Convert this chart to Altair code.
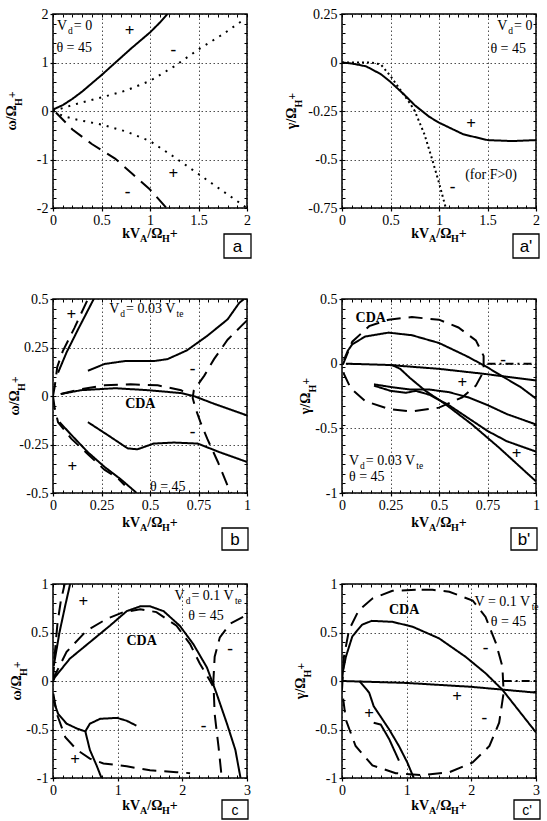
import altair as alt
import pandas as pd

SERIF = "Liberation Serif"
SANS = "Liberation Sans"
W = H = 194

# ---------------- Panel a : omega, Vd = 0 ----------------
a_solid_x = [0, 0.1, 0.2, 0.3, 0.4, 0.5, 0.6, 0.7, 0.8, 0.9, 1.0, 1.1, 1.18]
a_solid_y = [0.03, 0.12, 0.25, 0.4, 0.57, 0.74, 0.92, 1.1, 1.28, 1.45, 1.62, 1.82, 2.0]
a_dotup_x = [0, 0.25, 0.5, 0.75, 1.0, 1.25, 1.5, 1.75, 1.95]
a_dotup_y = [0, 0.15, 0.28, 0.42, 0.62, 0.92, 1.27, 1.58, 1.86]
a_dotlo_x = [0, 0.1, 0.25, 0.5, 0.75, 1.0, 1.25, 1.5, 1.75, 2.0]
a_dotlo_y = [0, -0.1, -0.18, -0.28, -0.42, -0.62, -0.95, -1.3, -1.65, -2.0]
a_dash_x = [0.03, 0.2, 0.4, 0.64, 0.82, 1.0, 1.17]
a_dash_y = [-0.03, -0.38, -0.68, -0.98, -1.3, -1.62, -2.0]

# ---------------- Panel a' : gamma, Vd = 0 ----------------
ap_solid_x = [0, 0.1, 0.25, 0.4, 0.5, 0.65, 0.75, 0.9, 1.0, 1.25, 1.5, 1.75, 2.0]
ap_solid_y = [0, -0.005, -0.02, -0.06, -0.1, -0.17, -0.22, -0.28, -0.31, -0.37, -0.4, -0.405, -0.4]
ap_dot_x = [0, 0.3, 0.4, 0.5, 0.6, 0.7, 0.75, 0.85, 0.93, 1.0, 1.07]
ap_dot_y = [0, 0, -0.01, -0.07, -0.14, -0.21, -0.25, -0.37, -0.5, -0.62, -0.75]

# ---------------- Panel b : omega, Vd = 0.03 Vte ----------------
b_ul_s_x = [0.026, 0.07, 0.13, 0.21]
b_ul_s_y = [0.12, 0.225, 0.345, 0.5]
b_ul_d_x = [0.0, 0.009, 0.022, 0.05, 0.11, 0.18]
b_ul_d_y = [0.0, 0.05, 0.15, 0.23, 0.35, 0.5]
b_um_s_x = [0.18, 0.265, 0.37, 0.52, 0.59, 0.69, 0.795, 0.9, 0.96, 0.985]
b_um_s_y = [0.13, 0.165, 0.18, 0.18, 0.19, 0.235, 0.31, 0.395, 0.48, 0.5]
b_r_d_x = [1.0, 0.97, 0.9, 0.83, 0.78, 0.726, 0.72, 0.735, 0.76, 0.795, 0.85, 0.905, 0.92]
b_r_d_y = [0.39, 0.36, 0.29, 0.19, 0.105, 0.03, -0.01, -0.065, -0.135, -0.22, -0.34, -0.475, -0.5]
b_cda_s_x = [0.04, 0.145, 0.32, 0.49, 0.66, 0.725, 0.83, 1.0]
b_cda_s_y = [0.01, 0.03, 0.04, 0.03, 0.015, 0.0, -0.04, -0.1]
b_cda_d_x = [0.04, 0.145, 0.265, 0.4, 0.54, 0.66, 0.71]
b_cda_d_y = [0.01, 0.035, 0.055, 0.06, 0.055, 0.03, 0.0]
b_lm_s_x = [0.18, 0.28, 0.385, 0.435, 0.52, 0.625, 0.745, 0.86, 1.0]
b_lm_s_y = [-0.135, -0.2, -0.27, -0.275, -0.245, -0.24, -0.245, -0.29, -0.34]
b_ll_s_x = [0.034, 0.094, 0.18, 0.265, 0.35, 0.42, 0.43]
b_ll_s_y = [-0.135, -0.2, -0.29, -0.365, -0.43, -0.49, -0.5]
b_ll_d_x = [0.0, 0.009, 0.026, 0.094, 0.18, 0.265, 0.33, 0.37]
b_ll_d_y = [0.0, -0.065, -0.135, -0.22, -0.3, -0.38, -0.42, -0.46]

# ---------------- Panel b' : gamma, Vd = 0.03 Vte ----------------
bp_arch_x = [0.01, 0.03, 0.053, 0.12, 0.24, 0.36, 0.5, 0.64, 0.74, 0.84, 0.92, 1.0]
bp_arch_y = [0.03, 0.1, 0.15, 0.21, 0.24, 0.22, 0.16, 0.06, -0.02, -0.11, -0.18, -0.27]
bp_zero_x = [0.02, 0.24, 0.5, 0.74, 1.0]
bp_zero_y = [0.0, -0.01, -0.04, -0.08, -0.13]
bp_desc_x = [0.25, 0.3, 0.35, 0.43, 0.53, 0.67, 0.81, 1.0]
bp_desc_y = [-0.005, -0.04, -0.11, -0.21, -0.31, -0.47, -0.65, -0.91]
bp_p_x = [0.165, 0.25, 0.35, 0.45, 0.55, 0.65, 0.75, 0.85, 1.0]
bp_p_y = [-0.16, -0.18, -0.2, -0.2, -0.22, -0.26, -0.32, -0.39, -0.47]
bp_q_x = [0.165, 0.25, 0.33, 0.38, 0.45, 0.55, 0.65, 0.75, 0.85, 1.0]
bp_q_y = [-0.17, -0.21, -0.225, -0.21, -0.24, -0.32, -0.42, -0.52, -0.6, -0.68]
bp_ell_x = [0.005, 0.053, 0.14, 0.24, 0.36, 0.5, 0.6, 0.69, 0.73, 0.73, 0.69, 0.62, 0.5,
            0.36, 0.24, 0.12, 0.045, 0.01, 0.005]
bp_ell_y = [-0.005, 0.17, 0.29, 0.34, 0.36, 0.34, 0.28, 0.18, 0.06, -0.06, -0.17, -0.26, -0.34,
            -0.37, -0.35, -0.29, -0.19, -0.08, -0.005]
bp_hz_x = [0.75, 1.0]
bp_hz_y = [0.0, 0.0]

# ---------------- Panel c : omega, Vd = 0.1 Vte ----------------
c_st_s_x = [0.01, 0.1, 0.19, 0.265]
c_st_s_y = [0.15, 0.5, 0.78, 1.0]
c_st_d_x = [0.0, 0.03, 0.07, 0.12, 0.18]
c_st_d_y = [0.0, 0.3, 0.6, 0.82, 1.0]
c_arch_s_x = [0.0, 0.03, 0.26, 0.57, 0.88, 1.14, 1.35, 1.5, 1.71, 1.96, 2.17, 2.38, 2.53, 2.69, 2.82, 2.9]
c_arch_s_y = [0.0, 0.04, 0.23, 0.4, 0.57, 0.72, 0.77, 0.77, 0.72, 0.57, 0.38, 0.14, -0.13, -0.44, -0.71, -1.0]
c_arch_d_x = [0.0, 0.03, 0.21, 0.52, 0.83, 1.09, 1.35, 1.6, 1.91, 2.12, 2.27, 2.43, 2.47]
c_arch_d_y = [0.0, 0.06, 0.3, 0.52, 0.64, 0.71, 0.74, 0.71, 0.57, 0.38, 0.18, 0.0, -0.05]
c_rt_d_x = [2.94, 2.74, 2.58, 2.5, 2.48, 2.5, 2.56, 2.61]
c_rt_d_y = [0.66, 0.59, 0.45, 0.25, 0.0, -0.34, -0.68, -1.0]
c_lo_s1_x = [0.005, 0.08, 0.21, 0.37, 0.5, 0.57, 0.68, 0.75]
c_lo_s1_y = [-0.2, -0.34, -0.44, -0.49, -0.52, -0.71, -0.88, -1.0]
c_lo_s2_x = [0.5, 0.57, 0.73, 0.99, 1.14, 1.29]
c_lo_s2_y = [-0.52, -0.44, -0.39, -0.38, -0.41, -0.46]
c_lo_d_x = [0.005, 0.06, 0.19, 0.37, 0.57, 0.78, 1.14, 1.5, 1.91, 2.12]
c_lo_d_y = [-0.13, -0.34, -0.58, -0.71, -0.8, -0.85, -0.88, -0.92, -0.94, -0.95]

# ---------------- Panel c' : gamma, Vd = 0.1 Vte ----------------
cp_arch_x = [0.0, 0.015, 0.06, 0.16, 0.31, 0.46, 0.78, 1.09, 1.5, 1.91, 2.22, 2.48, 2.74, 3.0]
cp_arch_y = [0.0, 0.1, 0.25, 0.46, 0.58, 0.62, 0.61, 0.56, 0.44, 0.25, 0.08, -0.09, -0.31, -0.53]
cp_zero_x = [0, 1, 2, 2.5, 3]
cp_zero_y = [0, -0.02, -0.06, -0.09, -0.12]
cp_desc_x = [0.27, 0.42, 0.49, 0.57, 0.73, 0.88, 1.01, 1.11]
cp_desc_y = [0.0, -0.12, -0.26, -0.34, -0.5, -0.67, -0.84, -1.0]
cp_short_x = [0.49, 0.6, 0.73, 0.88]
cp_short_y = [-0.43, -0.45, -0.6, -0.82]
cp_circ_x = [1.14, 0.78, 0.47, 0.26, 0.11, 0.03, 0.0, 0.06, 0.21, 0.47, 0.83, 1.24, 1.66, 2.02,
             2.28, 2.43, 2.5, 2.48, 2.38, 2.22, 2.02, 1.66, 1.4, 1.14]
cp_circ_y = [0.94, 0.93, 0.85, 0.73, 0.53, 0.25, -0.09, -0.4, -0.67, -0.87, -0.95, -0.97, -0.94, -0.84,
             -0.67, -0.43, -0.12, 0.15, 0.39, 0.66, 0.83, 0.92, 0.94, 0.94]
cp_hz_x = [2.5, 3.0]
cp_hz_y = [0.0, 0.0]

# ---------------- axis ticks ----------------
ticks_x2 = [0, 0.5, 1, 1.5, 2]
ticks_x1 = [0, 0.25, 0.5, 0.75, 1]
ticks_x3 = [0, 1, 2, 3]
ticks_ya = [-2, -1, 0, 1, 2]
ticks_yap = [-0.75, -0.5, -0.25, 0, 0.25]
ticks_yb = [-0.5, -0.25, 0, 0.25, 0.5]
ticks_ybp = [-1, -0.5, 0, 0.5]
ticks_yc = [-1, -0.5, 0, 0.5, 1]

# ---------------- helpers ----------------
REG = {" ": .25, ".": .25, "=": .564, "+": .564, "-": .333, "V": .722, "d": .5, "t": .278, "e": .444,
       "θ": .52, "(": .333, ")": .333, "f": .333, "o": .5, "r": .333, "F": .556, ">": .564}
BOLD = {"k": .556, "V": .722, "A": .722, "/": .278, "Ω": .77, "H": .778, "+": .57, "ω": .7,
        "γ": .5, "C": .722, "D": .722}


def tw(s, fs, bold=False):
    tab = BOLD if bold else REG
    return sum(tab.get(ch, 0.5) for ch in s) * fs


AX = dict(grid=True, gridDash=[1.5, 2.5], gridColor="#222", gridWidth=0.8, domain=False,
          ticks=True, tickSize=3, tickColor="black", tickWidth=1.2, labelFont=SERIF,
          labelFontSize=14, labelColor="black", labelExpr="'' + datum.value", labelPadding=2,
          labelFlush=False, labelOverlap=False, title=None)
MINOR = dict(labels=False, domain=False, grid=False, ticks=True, tickSize=3, offset=-3,
             tickColor="black", tickWidth=1, title=None)

ONE = alt.Data(values=[{"k": 0}])


def ptext(text, x, y, fs, bold=False, angle=0, align="left", font=SERIF):
    return alt.Chart(ONE).mark_text(text=text, font=font, fontSize=fs, angle=angle, align=align,
                                    baseline="middle", color="black",
                                    fontWeight="bold" if bold else "normal").encode(
        x=alt.value(x), y=alt.value(y))


def xtitle(y):
    parts = [("kV", 14, 0), ("A", 10, 5), ("/Ω", 14, 0), ("H", 10, 5), ("+", 14, 0)]
    total = sum(tw(t, f, True) for t, f, _ in parts)
    x = W / 2 - total / 2
    out = []
    for t, f, dy in parts:
        out.append(ptext(t, x, y + dy, f, bold=True))
        x += tw(t, f, True)
    return out


def ytitle(first, xc):
    parts = [(first + "/Ω", 14, 0), ("H", 10, 7), ("+", 12, 0)]
    total = sum(tw(t, f, True) for t, f, _ in parts)
    y = H / 2 + total / 2
    out = []
    for t, f, dx in parts:
        out.append(ptext(t, xc + dx, y, f, bold=True, angle=270))
        y -= tw(t, f, True)
    return out


def tagbox(label, x1, x2, y1, y2, fs=17):
    box = alt.Chart(ONE).mark_rect(fill="white", stroke="black", strokeWidth=1.3).encode(
        x=alt.value(x1), x2=alt.value(x2), y=alt.value(y1), y2=alt.value(y2))
    return [box, ptext(label, (x1 + x2) / 2, (y1 + y2) / 2 + 1, fs, align="center", font=SANS)]


def panel(curves, xdom, ydom, xt, yt, dash, anns, signs, bolds, ysym, ytx, xty, box, label, boxfs=17):
    rows = []
    for name, xs, ys, style in curves:
        for i, (xv, yv) in enumerate(zip(xs, ys)):
            rows.append({"x": xv, "y": yv, "c": name, "i": i, "s": style})
    df = pd.DataFrame(rows)
    sx = alt.Scale(domain=xdom, nice=False, zero=False)
    sy = alt.Scale(domain=ydom, nice=False, zero=False)
    xspan = xdom[1] - xdom[0]
    yspan = ydom[1] - ydom[0]
    xminor = [round(xdom[0] + k * xspan / 20, 4) for k in range(21)]
    yminor = [round(ydom[0] + k * yspan / 20, 4) for k in range(21)]

    def XN():
        return alt.X("x:Q", scale=sx, axis=None)

    def YN():
        return alt.Y("y:Q", scale=sy, axis=None)

    styles = ["solid", "dash", "dot", "dot2", "dashdot"]
    lines = alt.Chart(df).mark_line(color="black", clip=True).encode(
        x=alt.X("x:Q", scale=sx, axis=alt.Axis(values=xt, **AX)),
        y=alt.Y("y:Q", scale=sy, axis=alt.Axis(values=yt, **AX)),
        detail="c:N", order="i:Q",
        strokeDash=alt.StrokeDash("s:N", scale=alt.Scale(domain=styles, range=dash), legend=None),
        strokeWidth=alt.StrokeWidth("s:N", scale=alt.Scale(domain=styles, range=[2, 2, 2.6, 2.6, 1.6]),
                                    legend=None))
    m1 = alt.Chart(df).mark_point(opacity=0).encode(
        x=alt.X("x:Q", scale=sx, axis=alt.Axis(orient="top", values=xminor, **MINOR)),
        y=alt.Y("y:Q", scale=sy, axis=alt.Axis(orient="right", values=yminor, **MINOR)))
    m2 = alt.Chart(df).mark_point(opacity=0).encode(
        x=alt.X("x:Q", scale=sx, axis=alt.Axis(orient="bottom", values=xminor, **MINOR)),
        y=alt.Y("y:Q", scale=sy, axis=alt.Axis(orient="left", values=yminor, **MINOR)))
    layers = [lines, m1, m2]
    # annotations with subscripts (data coordinates, segment offsets in px)
    for ax_, ay_, parts in anns:
        off = 0.0
        for t, kind in parts:
            fs = 14 if kind == "n" else 9.5
            dy = 0 if kind == "n" else 5
            layers.append(alt.Chart(pd.DataFrame({"x": [ax_], "y": [ay_], "t": [t]})).mark_text(
                align="left", baseline="middle", dx=off, dy=dy, font=SERIF, fontSize=fs,
                color="black").encode(x=XN(), y=YN(), text="t:N"))
            off += tw(t, fs) + 1.0
    if signs:
        sdf = pd.DataFrame(signs, columns=["x", "y", "t"])
        layers.append(alt.Chart(sdf).mark_text(align="center", baseline="middle", font=SERIF,
                                               fontSize=17, fontWeight="bold", color="black").encode(
            x=XN(), y=YN(), text="t:N"))
    if bolds:
        bdf = pd.DataFrame(bolds, columns=["x", "y", "t", "a"])
        for al in ["left", "center"]:
            sub = bdf[bdf["a"] == al]
            if len(sub):
                layers.append(alt.Chart(sub).mark_text(align=al, baseline="middle", font=SERIF,
                                                       fontSize=14, fontWeight="bold",
                                                       color="black").encode(
                    x=XN(), y=YN(), text="t:N"))
    layers += ytitle(ysym, ytx)
    layers += xtitle(xty)
    layers += tagbox(label, *box, fs=boxfs)
    return alt.layer(*layers).properties(width=W, height=H)


DASH_A = [[1, 0], [14, 8], [2, 6], [2, 3], [8, 4, 2, 4]]
DASH_B = [[1, 0], [9, 5], [2, 6], [2, 3], [8, 4, 2, 4]]

pa = panel(
    [("s", a_solid_x, a_solid_y, "solid"), ("du", a_dotup_x, a_dotup_y, "dot"),
     ("dl", a_dotlo_x, a_dotlo_y, "dot"), ("da", a_dash_x, a_dash_y, "dash")],
    [0, 2], [-2, 2], ticks_x2, ticks_ya, DASH_A,
    [(0.04, 1.76, [("V", "n"), ("d", "s"), ("= 0", "n")]),
     (0.035, 1.29, [("θ = 45", "n")])],
    [(0.79, 1.64, "+"), (1.24, 1.26, "-"), (1.24, -1.29, "+"), (0.77, -1.66, "-")],
    [], "ω", -41, 220, (171, 198, 220, 244), "a")

pap = panel(
    [("s", ap_solid_x, ap_solid_y, "solid"), ("d", ap_dot_x, ap_dot_y, "dot2")],
    [0, 2], [-0.75, 0.25], ticks_x2, ticks_yap, DASH_A,
    [(1.6, 0.19, [("V", "n"), ("d", "s"), ("= 0", "n")]),
     (1.53, 0.07, [("θ = 45", "n")]),
     (1.27, -0.578, [("(for F>0)", "n")])],
    [(1.33, -0.317, "+"), (1.14, -0.643, "-")],
    [], "γ", -50, 220, (171, 197, 220, 244), "a'")

pb = panel(
    [("uls", b_ul_s_x, b_ul_s_y, "solid"), ("uld", b_ul_d_x, b_ul_d_y, "dash"),
     ("ums", b_um_s_x, b_um_s_y, "solid"), ("rd", b_r_d_x, b_r_d_y, "dash"),
     ("cs", b_cda_s_x, b_cda_s_y, "solid"), ("cd", b_cda_d_x, b_cda_d_y, "dash"),
     ("lms", b_lm_s_x, b_lm_s_y, "solid"), ("lls", b_ll_s_x, b_ll_s_y, "solid"),
     ("lld", b_ll_d_x, b_ll_d_y, "dash")],
    [0, 1], [-0.5, 0.5], ticks_x1, ticks_yb, DASH_B,
    [(0.29, 0.447, [("V", "n"), ("d", "s"), ("= 0.03 V", "n"), ("te", "s")]),
     (0.5, -0.467, [("θ = 45", "n")])],
    [(0.094, 0.42, "+"), (0.1, -0.365, "+"), (0.72, 0.14, "-"), (0.72, -0.185, "-")],
    [(0.45, -0.04, "CDA", "center")], "ω", -38, 224, (169, 195, 229, 251), "b")

pbp = panel(
    [("arch", bp_arch_x, bp_arch_y, "solid"), ("zero", bp_zero_x, bp_zero_y, "solid"),
     ("desc", bp_desc_x, bp_desc_y, "solid"), ("p", bp_p_x, bp_p_y, "solid"),
     ("q", bp_q_x, bp_q_y, "solid"), ("ell", bp_ell_x, bp_ell_y, "dash"),
     ("hz", bp_hz_x, bp_hz_y, "dashdot")],
    [0, 1], [-1, 0.5], ticks_x1, ticks_ybp, DASH_B,
    [(0.036, -0.75, [("V", "n"), ("d", "s"), ("= 0.03 V", "n"), ("te", "s")]),
     (0.036, -0.88, [("θ = 45", "n")])],
    [(0.62, -0.15, "+"), (0.9, -0.70, "+"), (0.83, 0.03, "-")],
    [(0.07, 0.356, "CDA", "left")], "γ", -36, 224, (169, 195, 229, 251), "b'")

pc = panel(
    [("sts", c_st_s_x, c_st_s_y, "solid"), ("std", c_st_d_x, c_st_d_y, "dash"),
     ("as", c_arch_s_x, c_arch_s_y, "solid"), ("ad", c_arch_d_x, c_arch_d_y, "dash"),
     ("rd", c_rt_d_x, c_rt_d_y, "dash"), ("l1", c_lo_s1_x, c_lo_s1_y, "solid"),
     ("l2", c_lo_s2_x, c_lo_s2_y, "solid"), ("ld", c_lo_d_x, c_lo_d_y, "dash")],
    [0, 3], [-1, 1], ticks_x3, ticks_yc, DASH_B,
    [(1.88, 0.877, [("V", "n"), ("d", "s"), ("= 0.1 V", "n"), ("te", "s")]),
     (2.09, 0.67, [("θ = 45", "n")])],
    [(0.47, 0.81, "+"), (0.34, -0.81, "+"), (2.74, 0.33, "-"), (2.33, -0.46, "-")],
    [(1.37, 0.415, "CDA", "center")], "ω", -36, 222, (169, 195, 216, 235), "c", boxfs=14)

pcp = panel(
    [("arch", cp_arch_x, cp_arch_y, "solid"), ("zero", cp_zero_x, cp_zero_y, "solid"),
     ("desc", cp_desc_x, cp_desc_y, "solid"), ("short", cp_short_x, cp_short_y, "solid"),
     ("circ", cp_circ_x, cp_circ_y, "dash"), ("hz", cp_hz_x, cp_hz_y, "dashdot")],
    [0, 3], [-1, 1], ticks_x3, ticks_yc, DASH_B,
    [(2.05, 0.81, [("V = 0.1 V", "n"), ("te", "s")]),
     (2.3, 0.61, [("θ = 45", "n")])],
    [(1.78, -0.17, "+"), (0.42, -0.34, "+"), (2.22, 0.34, "-"), (2.2, -0.38, "-")],
    [(0.96, 0.73, "CDA", "center")], "γ", -41, 222, (172, 198, 216, 235), "c'", boxfs=14)

chart = alt.concat(pa, pap, pb, pbp, pc, pcp, columns=2,
                   spacing=alt.RowColnumber(row=91, column=95), bounds="flush").properties(
    padding={"left": 4, "top": 6, "right": 2, "bottom": 0}, background="white"
).configure_view(stroke="black", strokeWidth=1.5)

chart.save("out.html", embed_options={"renderer": "svg", "actions": False})
